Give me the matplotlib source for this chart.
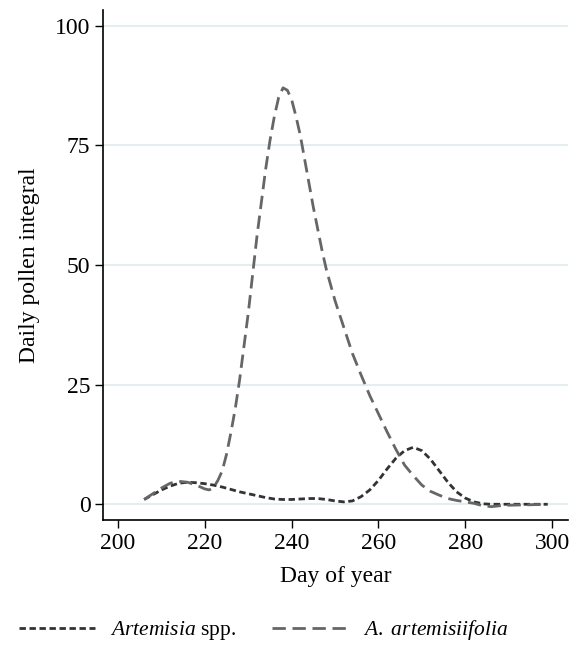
import matplotlib.pyplot as plt

plt.rcParams['font.family'] = ['Liberation Serif', 'DejaVu Serif']
plt.rcParams['mathtext.fontset'] = 'custom'
plt.rcParams['mathtext.it'] = 'Liberation Serif:italic'
plt.rcParams['mathtext.rm'] = 'Liberation Serif'

days_art = [206, 208, 210, 212, 214, 216, 218, 220, 222, 224, 226, 228, 230,
            232, 234, 236, 238, 240, 242, 244, 246, 248, 250, 252, 254, 256,
            258, 260, 262, 264, 266, 268, 270, 272, 274, 276, 278, 280, 282,
            284, 286, 290, 295, 299]
artemisia = [1.0, 2.0, 3.0, 3.8, 4.4, 4.6, 4.5, 4.3, 4.0, 3.6, 3.1, 2.6, 2.2,
             1.8, 1.4, 1.1, 1.0, 1.0, 1.1, 1.2, 1.2, 1.0, 0.7, 0.5, 0.7, 1.6,
             3.0, 5.0, 7.4, 9.6, 11.2, 11.9, 11.2, 9.4, 7.0, 4.6, 2.6, 1.3, 0.5,
             0.1, 0.0, 0.0, 0.0, 0.0]

days_amb = [206, 208, 210, 212, 214, 216, 218, 220, 221, 222, 223, 224, 225,
            226, 227, 228, 229, 230, 231, 232, 233, 234, 235, 236, 237, 238,
            239, 240, 241, 242, 243, 244, 245, 246, 247, 248, 250, 252, 254,
            256, 258, 260, 262, 264, 266, 268, 270, 272, 274, 276, 278, 280,
            282, 284, 286, 288, 290, 295, 299]
ambrosia = [1.0, 2.2, 3.4, 4.4, 4.8, 4.6, 4.0, 3.2, 3.0, 3.5, 5.0, 7.0, 10.5,
            15, 20, 26, 33, 40, 48, 56, 63, 70, 76, 81, 85, 87,
            86.5, 84.5, 81, 77, 72, 67, 62, 57.5, 53, 49, 42.5, 37, 31.5,
            27, 22.7, 18.9, 15.1, 11.5, 8.2, 6.0, 4.0, 2.7, 1.9, 1.2, 0.8, 0.5,
            0.2, -0.3, -0.5, -0.3, -0.2, -0.1, 0.0]

x_ticks = [200, 220, 240, 260, 280, 300]
y_ticks = [0, 25, 50, 75, 100]

fig = plt.figure(figsize=(5.75, 6.55), dpi=100)
ax = fig.add_axes([0.179, 0.206, 0.809, 0.779])

for y in y_ticks:
    ax.axhline(y, color='#e4eef0', lw=1.5, zorder=0)

ax.plot(days_art, artemisia, color='#333333', lw=2.0,
        linestyle=(0, (2.3, 1.3)), label=r'$\it{Artemisia}$ spp.')
ax.plot(days_amb, ambrosia, color='#666666', lw=2.0,
        linestyle=(0, (4.8, 2.4)), label=r'$\it{A.\,\,artemisiifolia}$')

ax.set_xlim(196.5, 303.7)
ax.set_ylim(-3.3, 103.3)
ax.set_xticks(x_ticks)
ax.set_yticks(y_ticks)
ax.spines['top'].set_visible(False)
ax.spines['right'].set_visible(False)
ax.spines['left'].set_linewidth(1.2)
ax.spines['bottom'].set_linewidth(1.2)
ax.tick_params(direction='out', length=6, width=1.0, labelsize=17, pad=3)
ax.set_xlabel('Day of year', fontsize=17, labelpad=9)
ax.set_ylabel('Daily pollen integral', fontsize=17, labelpad=11)

fig.legend(loc='center', bbox_to_anchor=(0.458, 0.038), ncol=2, frameon=False,
           fontsize=15.5, handlelength=3.5, columnspacing=1.7,
           handletextpad=0.7)

fig.savefig('out.png', dpi=100)
